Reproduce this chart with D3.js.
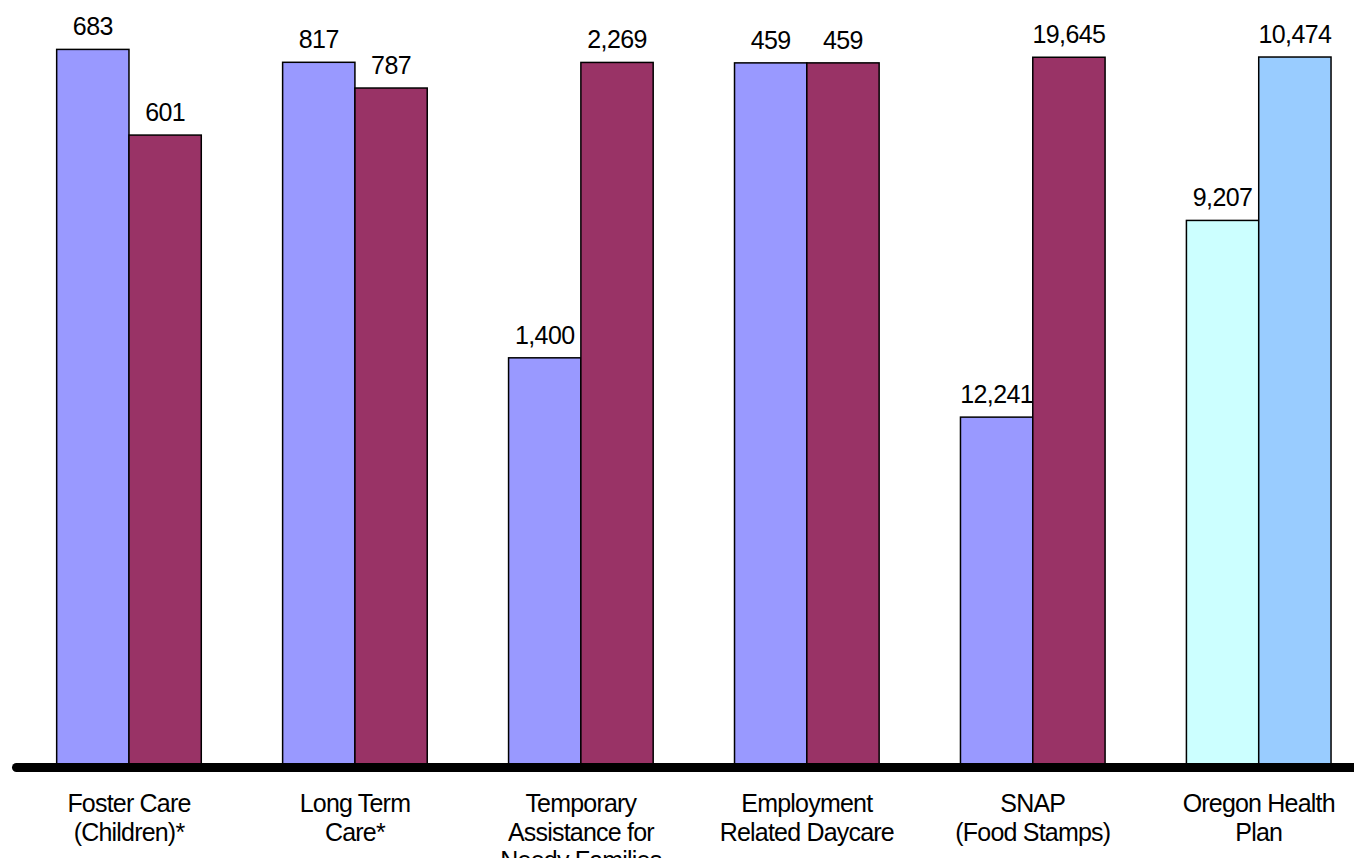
<!DOCTYPE html>
<html>
<head>
<meta charset="utf-8">
<script src="https://cdn.jsdelivr.net/npm/d3@7"></script>
<style>
  html, body { margin: 0; padding: 0; background: #ffffff; }
  svg { display: block; }
  text { font-family: "Liberation Sans", Arial, sans-serif; fill: #000; }
</style>
</head>
<body>
<svg id="chart" width="1354" height="858"></svg>
<script>
// ---- data ----
const categories = [
  ["Foster Care", "(Children)*"],
  ["Long Term", "Care*"],
  ["Temporary", "Assistance for", "Needy Families"],
  ["Employment", "Related Daycare"],
  ["SNAP", "(Food Stamps)"],
  ["Oregon Health", "Plan"]
];
const firstValues  = [683, 817, 1400, 459, 12241, 9207];
const secondValues = [601, 787, 2269, 459, 19645, 10474];
// each program is plotted on its own value axis (composite of separate charts)
const axisMin = [0, 0, 208, 0, 5125, 5000];
const axisMax = [692, 843, 2335, 474, 20000, 10606];

// ---- styles ----
const pairColors = [
  ["#9999FF", "#993366"],
  ["#9999FF", "#993366"],
  ["#9999FF", "#993366"],
  ["#9999FF", "#993366"],
  ["#9999FF", "#993366"],
  ["#CCFFFF", "#99CCFF"]
];

const svg = d3.select("#chart");
const W = 1354, H = 858;
const baseY = 763, topY = 40;

const catKeys = categories.map(c => c.join(" "));
const x = d3.scaleBand().domain(catKeys).range([16, 1371.7]).padding(0);
const groupW = x.bandwidth() * 0.64;
const xSub = d3.scaleBand().domain([0, 1]).range([-groupW / 2, groupW / 2]).padding(0);

const yScales = categories.map((c, i) =>
  d3.scaleLinear().domain([axisMin[i], axisMax[i]]).range([baseY, topY]));

const rows = [];
categories.forEach((c, i) => {
  [firstValues[i], secondValues[i]].forEach((v, s) => {
    rows.push({ key: catKeys[i], gi: i, s, v });
  });
});

const fmt = d3.format(",");

const g = svg.append("g");
g.selectAll("rect.bar").data(rows).join("rect")
  .attr("class", "bar")
  .attr("x", d => x(d.key) + x.bandwidth() / 2 + xSub(d.s))
  .attr("width", xSub.bandwidth())
  .attr("y", d => yScales[d.gi](d.v))
  .attr("height", d => baseY + 2 - yScales[d.gi](d.v))
  .attr("fill", d => pairColors[d.gi][d.s])
  .attr("stroke", "#000")
  .attr("stroke-width", 1.5);

g.selectAll("text.val").data(rows).join("text")
  .attr("class", "val")
  .attr("x", d => x(d.key) + x.bandwidth() / 2 + xSub(d.s) + xSub.bandwidth() / 2)
  .attr("y", d => yScales[d.gi](d.v) - 14)
  .attr("text-anchor", "middle")
  .attr("font-size", 25)
  .attr("letter-spacing", -0.6)
  .text(d => fmt(d.v));

// category axis
const axis = svg.append("g")
  .attr("transform", `translate(0,${baseY + 4})`)
  .call(d3.axisBottom(x).tickSize(0).tickFormat(""));
axis.select(".domain")
  .attr("stroke", "#000")
  .attr("stroke-width", 9)
  .attr("stroke-linecap", "round");

const labels = svg.append("g").selectAll("text.cat").data(categories).join("text")
  .attr("class", "cat")
  .attr("text-anchor", "middle")
  .attr("font-size", 25)
  .attr("letter-spacing", -0.8)
  .attr("transform", (c, i) => `translate(${x(catKeys[i]) + x.bandwidth() / 2},812)`);
labels.selectAll("tspan").data(c => c).join("tspan")
  .attr("x", 0)
  .attr("dy", (t, j) => j === 0 ? 0 : 28.5)
  .text(t => t);
</script>
</body>
</html>
